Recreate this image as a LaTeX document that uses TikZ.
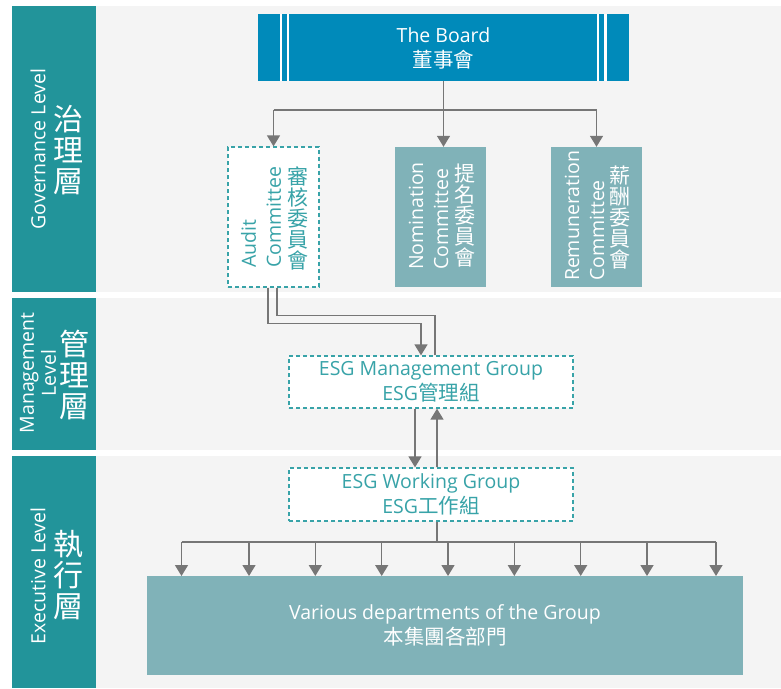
\documentclass[tikz,border=0pt]{standalone}
\usepackage{fontspec}
\setmainfont{Open Sans}
\newfontfamily\cjk{Noto Sans CJK TC}
\usetikzlibrary{arrows.meta}
\definecolor{barteal}{RGB}{34,148,154}
\definecolor{panelgrey}{RGB}{244,244,244}
\definecolor{boardblue}{RGB}{0,138,186}
\definecolor{comfill}{RGB}{128,178,184}
\definecolor{dashteal}{RGB}{56,163,168}
\definecolor{conngrey}{RGB}{118,118,118}
\newcommand\enf{\fontsize{19.5}{25}\selectfont}
\newcommand\zhf{\cjk\fontsize{20.5}{25}\selectfont}
\begin{document}
\begin{tikzpicture}[x=1pt,y=-1pt,
  line/.style={draw=conngrey, line width=1.5pt},
  arr/.style={line, -{Triangle[width=13pt,length=11pt]}},
  filledbox/.style={draw=none, inner sep=0pt, anchor=center},
  dashbox/.style={draw=dashteal, line width=1.3pt, dash pattern=on 4pt off 3pt, fill=white, inner sep=0pt, anchor=center, text=dashteal},
  bartext/.style={text=white, inner sep=0pt, align=center},
  vzh/.style={inner sep=0pt, align=center, font=\cjk\fontsize{21}{21}\selectfont},
  venglish/.style={inner sep=0pt, rotate=90, align=left, font=\enf}
]
\useasboundingbox (0,0) rectangle (781,688);
\fill[white] (0,0) rectangle (781,688);
% bands
\node[filledbox, fill=barteal, minimum width=84pt, minimum height=286pt] (govbar) at (54,149) {};
\node[filledbox, fill=panelgrey, minimum width=685pt, minimum height=286pt] (govpanel) at (438.5,149) {};
\node[filledbox, fill=barteal, minimum width=84pt, minimum height=152pt] (mgtbar) at (54,374) {};
\node[filledbox, fill=panelgrey, minimum width=685pt, minimum height=152pt] (mgtpanel) at (438.5,374) {};
\node[filledbox, fill=barteal, minimum width=84pt, minimum height=232pt] (exebar) at (54,572) {};
\node[filledbox, fill=panelgrey, minimum width=685pt, minimum height=232pt] (exepanel) at (438.5,572) {};

% bar labels
\node[bartext, rotate=90, font=\enf] (govEn) at (38,149) {Governance Level};
\node[bartext, font=\cjk\fontsize{30}{31}\selectfont] (govZh) at (68,150) {治\\理\\層};
\node[bartext, rotate=90, font=\fontsize{19.5}{22}\selectfont] (mgtEn) at (38,373) {Management\\Level};
\node[bartext, font=\cjk\fontsize{30}{31}\selectfont] (mgtZh) at (74,375) {管\\理\\層};
\node[bartext, rotate=90, font=\enf] (exeEn) at (38,576) {Executive Level};
\node[bartext, font=\cjk\fontsize{30}{31}\selectfont] (exeZh) at (68,575) {執\\行\\層};

% board
\node[filledbox, fill=boardblue, minimum width=371pt, minimum height=67pt] (board) at (443.5,47.5) {};
\fill[white] (279.5,14) rectangle (282,81);
\fill[white] (286.7,14) rectangle (289.2,81);
\fill[white] (596.8,14) rectangle (599.3,81);
\fill[white] (604,14) rectangle (606.5,81);
\node[text=white, inner sep=0pt, align=center, font=\enf] (boardText) at (443.5,48) {The Board\\{\zhf 董事會}};

% committees
\node[dashbox, minimum width=91pt, minimum height=140pt] (audit) at (273.5,217) {};
\node[filledbox, fill=comfill, minimum width=91pt, minimum height=140pt] (nom) at (440.5,217) {};
\node[filledbox, fill=comfill, minimum width=91pt, minimum height=140pt] (rem) at (596.5,217) {};

\node[venglish, text=dashteal] (auditEn) at (261,217) {Audit\\Committee};
\node[vzh, text=dashteal] (auditZh) at (298,218) {審\\核\\委\\員\\會};
\node[venglish, text=white] (nomEn) at (428.5,216) {Nomination\\Committee};
\node[vzh, text=white] (nomZh) at (465,216) {提\\名\\委\\員\\會};
\node[venglish, text=white] (remEn) at (584.5,216) {Remuneration\\Committee};
\node[vzh, text=white] (remZh) at (620,217) {薪\\酬\\委\\員\\會};

% ESG boxes
\node[dashbox, minimum width=284pt, minimum height=52pt, align=center, font=\enf] (mgmt) at (431,382) {ESG Management Group\\ESG{\zhf 管理組}};
\node[dashbox, minimum width=284pt, minimum height=53pt, align=center, font=\enf] (work) at (431,494.5) {ESG Working Group\\ESG{\zhf 工作組}};

% departments
\node[filledbox, fill=comfill, minimum width=596pt, minimum height=99pt, text=white, align=center, font=\enf] (dept) at (445,625.5) {Various departments of the Group\\{\zhf 本集團各部門}};

% board connectors
\coordinate (hL) at (273.5,110);
\coordinate (hR) at (596.5,110);
\coordinate (hM) at (443.5,110);
\draw[line] (board.south) -- (hM);
\draw[line] (hL) -- (hR);
\draw[arr] (hL) -- (audit.north);
\draw[arr] (hM) -- (hM |- nom.north);
\draw[arr] (hR) -- (rem.north);

% audit to ESG management
\draw[arr] ([xshift=-5.5pt]audit.south) -- ++(0,36) -| ([xshift=-10pt]mgmt.north);
\draw[line] ([xshift=3.5pt]audit.south) -- ++(0,28) -| ([xshift=4pt]mgmt.north);

% management <-> working
\draw[arr] ([xshift=-16pt]mgmt.south) -- ([xshift=-16pt]work.north);
\draw[arr] ([xshift=6pt]work.north) -- ([xshift=6pt]mgmt.south);

% working to departments
\coordinate (dj) at (437,542);
\draw[line] ([xshift=6pt]work.south) -- (dj);
\coordinate (dL) at (181.5,542);
\coordinate (dR) at (716,542);
\draw[line] (dL) -- (dR);
\foreach \xx in {181.5,249,315.3,381.7,448,514.3,580.7,647,716}{
  \draw[arr] (\xx,542) -- (\xx,576);
}
\end{tikzpicture}
\end{document}
